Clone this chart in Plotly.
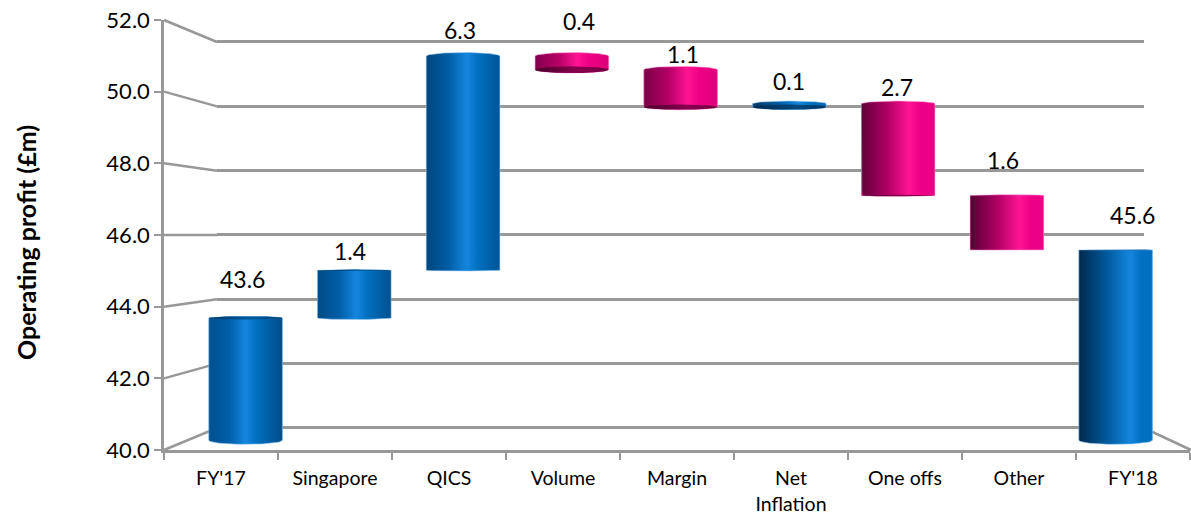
import numpy as np
import plotly.graph_objects as go

categories = ["FY'17", "Singapore", "QICS", "Volume", "Margin", "Net<br>Inflation", "One offs", "Other", "FY'18"]
bar_low = [40.0, 43.6, 45.0, 50.9, 49.8, 49.8, 47.2, 45.6, 40.0]
bar_high = [43.6, 45.0, 51.3, 51.3, 50.9, 49.9, 49.9, 47.2, 45.6]
is_up = [True, True, True, False, False, True, False, False, True]
labels = ["43.6", "1.4", "6.3", "0.4", "1.1", "0.1", "2.7", "1.6", "45.6"]
grid_values = [40, 42, 44, 46, 48, 50, 52]
title_text = "Operating profit (£m)"

W, H = 1191, 514
FONT = "Lato"
GREY = "#989898"

# pixel layout
front_x = (164, 1190)
front_y = (450, 20)
back_x = (217, 1144)
back_y = (428, 42)
bar_x = (191.2, 1170)
bar_y = (440.3, 32.3)
half_width = 0.338
eye_level = 46.0
bulge = 0.02
pad = 0.25  # spare axis range so rims and edge gridlines are not clipped
label_dx = [-3, -4, -3, 7, 2, 0, -1, -4, 17]
label_dy = [39, 19, 26, 35, 16, 23, 17, 35, 35]


def dom_x(p):
    return [p[0] / W, p[1] / W]


def dom_y(p):
    return [1 - p[0] / H, 1 - p[1] / H]


def padded(p):
    per_unit = (p[0] - p[1]) / 12
    return (p[0] + pad * per_unit, p[1] - pad * per_unit)


def mix(a, b, t):
    a = np.array([int(a[i:i + 2], 16) for i in (1, 3, 5)], float)
    b = np.array([int(b[i:i + 2], 16) for i in (1, 3, 5)], float)
    c = a + (b - a) * t
    return "rgb(%d,%d,%d)" % tuple(c)


def scale(i, up):
    t = i / 8
    hi = 0.5 + 0.2 * t
    if up:
        left = mix("#00508f", "#00294d", t)
        mid = mix("#005ea8", "#005a9e", t)
        peak = "#1486de"
        after = "#0070c0"
        right = mix("#004c88", "#0070c0", t)
    else:
        left = mix("#a8005f", "#4a002c", t)
        mid = mix("#b80068", "#b00064", t)
        peak = "#ff1493"
        after = "#ee0085"
        right = mix("#d0006f", "#f0008c", t)
    return [[0, left], [hi * 0.55, mid], [hi, peak], [min(hi + 0.15, 0.95), after], [1, right]]


fig = go.Figure()

# front axes carry ticks and labels
fig.add_trace(go.Bar(x=categories, y=[None] * 9, xaxis="x", yaxis="y", showlegend=False, hoverinfo="skip"))

# back wall axes carry the gridlines
fig.add_trace(go.Scatter(x=[0], y=[None], xaxis="x2", yaxis="y2", mode="lines", showlegend=False, hoverinfo="skip"))

# flat core of the bars
xs = list(range(len(categories)))
fig.add_trace(go.Bar(
    x=xs, y=[h - l for h, l in zip(bar_high, bar_low)], base=bar_low, width=2 * half_width,
    marker=dict(color=["#0070c0" if u else "#e6007e" for u in is_up], line_width=0),
    xaxis="x3", yaxis="y3", showlegend=False, hoverinfo="skip"))

theta = np.linspace(0, np.pi, 40)
for i, (lo, hi_v, up) in enumerate(zip(bar_low, bar_high, is_up)):
    ax = half_width * np.cos(theta)
    b_top = abs(hi_v - eye_level) * bulge
    b_low = abs(lo - eye_level) * bulge
    # body: upper arc of the top rim, then lower arc of the bottom rim
    px = np.concatenate([i + ax, i + ax[::-1]])
    py = np.concatenate([hi_v + b_top * np.sin(theta), lo - b_low * np.sin(theta[::-1])])
    rim = "rgba(150,200,245,0.55)" if up else "rgba(255,150,210,0.55)"
    fig.add_trace(go.Scatter(
        x=np.append(px, px[0]), y=np.append(py, py[0]), mode="lines", fill="toself",
        line=dict(color=rim, width=1),
        fillgradient=dict(type="horizontal", colorscale=scale(i, up)),
        xaxis="x3", yaxis="y3", showlegend=False, hoverinfo="skip"))
    # visible end cap
    t = np.linspace(0, 2 * np.pi, 60)
    if lo > eye_level:
        cx = i + half_width * np.cos(t)
        cy = lo + b_low * np.sin(t)
        cols = [[0, "#4a002c"], [0.6, "#8a004f"], [1, "#6e003f"]] if not up else [[0, "#00294d"], [0.6, "#00477c"], [1, "#003560"]]
        fig.add_trace(go.Scatter(x=cx, y=cy, mode="lines", fill="toself", line_width=0,
                                 fillgradient=dict(type="horizontal", colorscale=cols),
                                 xaxis="x3", yaxis="y3", showlegend=False, hoverinfo="skip"))
    if hi_v < eye_level:
        cx = i + half_width * np.cos(t)
        cy = hi_v + b_top * np.sin(t)
        cols = [[0, "#003a68"], [0.6, "#00599c"], [1, "#004274"]]
        fig.add_trace(go.Scatter(x=cx, y=cy, mode="lines", fill="toself", line_width=0,
                                 fillgradient=dict(type="horizontal", colorscale=cols),
                                 xaxis="x3", yaxis="y3", showlegend=False, hoverinfo="skip"))

annotations = [
    dict(x=i, y=h, xref="x3", yref="y3", text=t, showarrow=False, xshift=dx, yshift=dy,
         xanchor="center", yanchor="middle", font=dict(family=FONT, size=23, color="black"))
    for i, (h, t, dx, dy) in enumerate(zip(bar_high, labels, label_dx, label_dy))
]
annotations.append(dict(x=26 / W, y=1 - 243 / H, xref="paper", yref="paper", text="<b>" + title_text + "</b>",
                        showarrow=False, textangle=-90, xanchor="center", yanchor="middle",
                        font=dict(family=FONT, size=25, color="black")))


def fy(v):
    return front_y[0] + (front_y[1] - front_y[0]) * (v - 40) / 12


def by(v):
    return back_y[0] + (back_y[1] - back_y[0]) * (v - 40) / 12


shapes = [
    dict(type="line", xref="paper", yref="paper", layer="below",
         x0=front_x[0] / W, y0=1 - fy(v) / H, x1=back_x[0] / W, y1=1 - by(v) / H,
         line=dict(color=GREY, width=2.5))
    for v in grid_values
]
shapes.append(dict(type="line", xref="paper", yref="paper", layer="below",
                   x0=back_x[1] / W, y0=1 - by(40) / H, x1=1, y1=1 - fy(40) / H,
                   line=dict(color=GREY, width=2.5)))

fig.update_layout(
    width=W, height=H, autosize=False, margin=dict(l=0, r=0, t=0, b=0),
    paper_bgcolor="white", plot_bgcolor="rgba(0,0,0,0)", showlegend=False, barmode="overlay",
    font=dict(family=FONT, color="black"),
    shapes=shapes, annotations=annotations,
    xaxis=dict(domain=dom_x(front_x), type="category", categoryorder="array", categoryarray=categories,
               range=[-0.5, 8.5], tickson="boundaries", ticks="outside", ticklen=7, tickcolor=GREY, tickwidth=2,
               showline=True, linecolor=GREY, linewidth=2.5, showgrid=False, zeroline=False,
               tickangle=0, tickfont=dict(family=FONT, size=19.5), ticklabelstandoff=9, anchor="y", fixedrange=True),
    yaxis=dict(domain=dom_y(front_y), range=[40, 52], tickvals=grid_values, tickformat=".1f", ticks="outside",
               ticklen=7, tickcolor=GREY, tickwidth=2, showline=True, linecolor=GREY, linewidth=2.5,
               showgrid=False, zeroline=False, tickfont=dict(family=FONT, size=22), anchor="x",
               automargin=False, fixedrange=True),
    xaxis2=dict(domain=dom_x(back_x), range=[0, 1], visible=False, anchor="y2"),
    yaxis2=dict(domain=dom_y(padded(back_y)), range=[40 - pad, 52 + pad], tickvals=grid_values, showgrid=True,
                gridcolor=GREY, gridwidth=2.7, showticklabels=False, ticks="", showline=False, zeroline=False,
                anchor="x2"),
    xaxis3=dict(domain=dom_x(bar_x), range=[-0.5, 8.5], visible=False, anchor="y3"),
    yaxis3=dict(domain=dom_y(padded(bar_y)), range=[40 - pad, 52 + pad], visible=False, anchor="x3"),
)

fig.write_html("out.html", config={"displayModeBar": False},
               post_script="document.body.style.margin='0';document.body.style.overflow='hidden';")
